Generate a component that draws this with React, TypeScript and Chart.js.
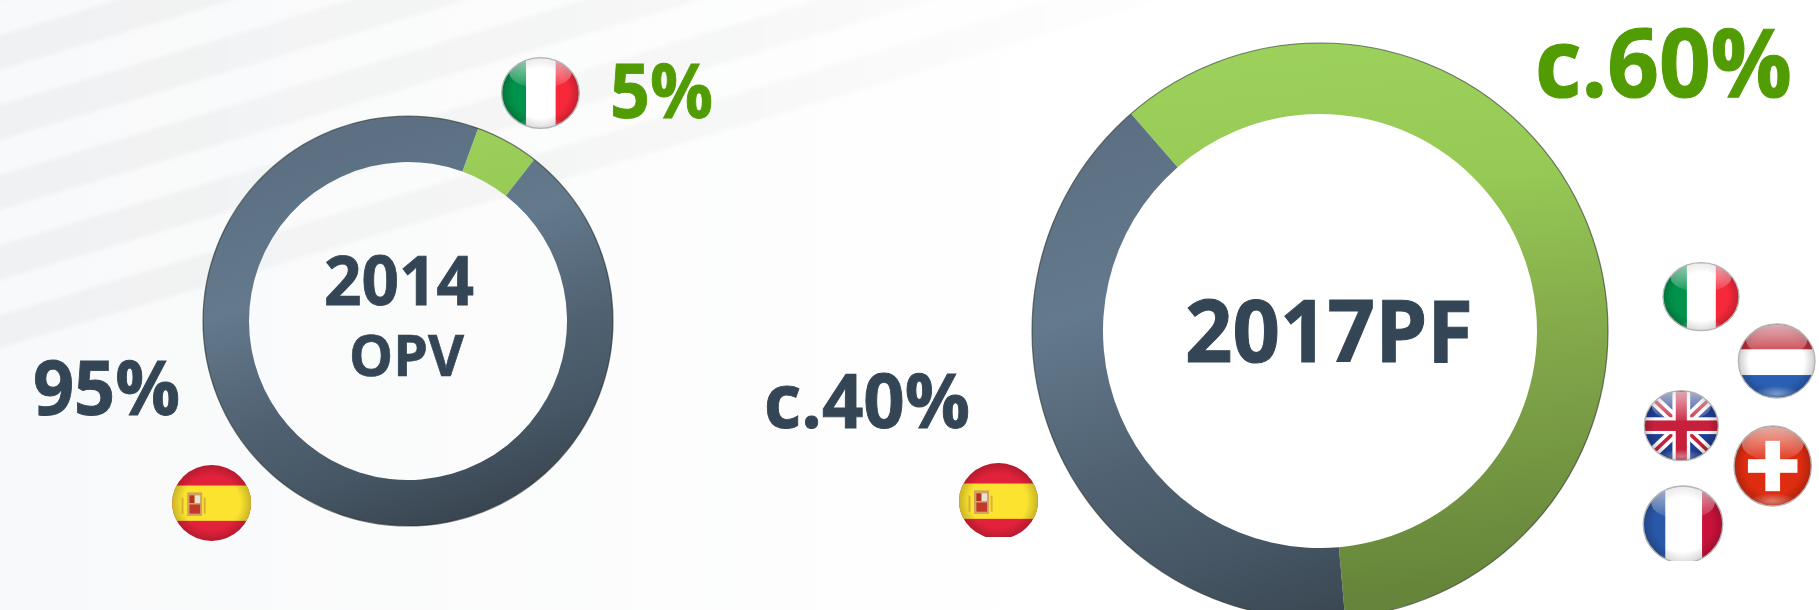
import React, { useEffect, useRef } from "react";
import { Chart, registerables } from "chart.js";

Chart.register(...registerables);

const labels2014 = ["Italy", "Spain"];
const shares2014 = [5, 95];
const labels2017 = ["Rest of Europe", "Spain"];
const shares2017 = [60, 40];

const INK = "#344656";
const GREEN = "#529c03";
const FONT = "'Open Sans', Lato, sans-serif";
const bandEdges = [-35, 0, 35, 70, 105, 140, 175, 210, 245, 280, 315, 348];

const outerEdge = {
  id: "outerEdge",
  afterDatasetsDraw(chart: any) {
    const arc = chart.getDatasetMeta(0).data[0];
    const c = chart.ctx;
    c.save();
    c.beginPath();
    c.arc(arc.x, arc.y, arc.outerRadius, 0, Math.PI * 2);
    c.strokeStyle = "rgba(35,45,40,0.6)";
    c.lineWidth = 1.2;
    c.stroke();
    c.restore();
  },
};

function Donut({ labels, values, rotation, cx, cy, outer, inner, order }: any) {
  const ref = useRef<HTMLCanvasElement>(null);
  const size = outer * 2 + 4;
  useEffect(() => {
    const canvas = ref.current!;
    const ctx = canvas.getContext("2d")!;
    const dark = ctx.createLinearGradient(size * 0.3, size * 0.1, size * 0.6, size);
    dark.addColorStop(0, "#5d7083");
    dark.addColorStop(0.3, "#63798c");
    dark.addColorStop(0.6, "#506272");
    dark.addColorStop(0.8, "#465664");
    dark.addColorStop(0.95, "#3c4955");
    dark.addColorStop(1, "#38444f");
    const green = ctx.createLinearGradient(0, 0, size * 0.1, size);
    green.addColorStop(0, "#9dd25c");
    green.addColorStop(0.3, "#97ca55");
    green.addColorStop(0.6, "#82a84a");
    green.addColorStop(1, "#66853a");
    const chart = new Chart(canvas, {
      type: "doughnut",
      data: {
        labels,
        datasets: [
          {
            data: values,
            backgroundColor: order.map((k: string) => (k === "g" ? green : dark)),
            borderWidth: 0,
          },
        ],
      },
      options: {
        animation: false,
        responsive: false,
        rotation,
        cutout: `${(inner / outer) * 100}%`,
        layout: { padding: 2 },
        plugins: { legend: { display: false }, tooltip: { enabled: false } },
      },
      plugins: [outerEdge],
    } as any);
    return () => chart.destroy();
  }, []);
  return (
    <canvas
      ref={ref}
      width={size}
      height={size}
      style={{ position: "absolute", left: cx - outer - 2, top: cy - outer - 2, width: size, height: size }}
    />
  );
}

function Label({ text, x1, x2, base, size, color }: any) {
  return (
    <text
      x={x1}
      y={base}
      textLength={x2 - x1}
      lengthAdjust="spacingAndGlyphs"
      fontFamily={FONT}
      fontWeight={700}
      fontSize={size}
      fill={color}
      stroke={color}
      strokeWidth={size * 0.012}
    >
      {text}
    </text>
  );
}

function Flag({ cx, cy, rx, ry, cut, edge = true, shine = true, children }: any) {
  const body = (
    <g transform={`translate(${cx} ${cy}) scale(${rx} ${ry})`}>
      <g clipPath="url(#unitDisc)">
        {children}
        <rect x={-1} y={-1} width={2} height={2} fill="url(#vignette)" />
        {shine ? <ellipse cx={0} cy={-0.56} rx={0.8} ry={0.42} fill="url(#gloss)" /> : null}
        {shine ? <ellipse cx={0} cy={0.84} rx={0.62} ry={0.2} fill="url(#glow)" /> : null}
      </g>
      {edge ? (
        <circle r={1} fill="none" stroke="#b4b4b4" strokeWidth={0.035} />
      ) : null}
    </g>
  );
  if (cut === undefined) return body;
  const id = `cut${Math.round(cx)}`;
  return (
    <g>
      <clipPath id={id}>
        <rect x={cx - rx - 2} y={cy - ry - 2} width={rx * 2 + 4} height={cut - cy + ry + 2} />
      </clipPath>
      <g clipPath={`url(#${id})`}>{body}</g>
    </g>
  );
}

const Italy = () => (
  <>
    <rect x={-1} y={-1} width={0.63} height={2} fill="#00924a" />
    <rect x={-0.37} y={-1} width={0.76} height={2} fill="#ffffff" />
    <rect x={0.39} y={-1} width={0.61} height={2} fill="#f6283a" />
  </>
);

const Spain = () => (
  <>
    <rect x={-1} y={-1} width={2} height={2} fill="#e2213a" />
    <rect x={-1} y={-0.46} width={2} height={0.93} fill="#fbe32f" />
    <rect x={-0.62} y={-0.28} width={0.38} height={0.62} fill="#d2a35e" />
    <rect x={-0.56} y={-0.2} width={0.12} height={0.2} fill="#b33224" />
    <rect x={-0.42} y={-0.2} width={0.13} height={0.2} fill="#e9e3d2" />
    <rect x={-0.56} y={0.04} width={0.27} height={0.24} fill="#c0392b" />
    <rect x={-0.76} y={-0.14} width={0.05} height={0.42} fill="#d9b23a" />
    <rect x={-0.2} y={-0.14} width={0.05} height={0.42} fill="#d9b23a" />
  </>
);

const Netherlands = () => (
  <>
    <rect x={-1} y={-1} width={2} height={0.69} fill="#c2303c" />
    <rect x={-1} y={-0.31} width={2} height={0.69} fill="#ffffff" />
    <rect x={-1} y={0.38} width={2} height={0.62} fill="#2a5fb4" />
  </>
);

const Britain = () => (
  <>
    <rect x={-1} y={-1} width={2} height={2} fill="#203f96" />
    <path d="M-1 -1L1 1M1 -1L-1 1" stroke="#ffffff" strokeWidth={0.3} />
    <path d="M-1 -1L1 1M1 -1L-1 1" stroke="#c8203c" strokeWidth={0.1} />
    <rect x={-0.24} y={-1} width={0.48} height={2} fill="#ffffff" />
    <rect x={-1} y={-0.24} width={2} height={0.48} fill="#ffffff" />
    <rect x={-0.15} y={-1} width={0.3} height={2} fill="#c8203c" />
    <rect x={-1} y={-0.15} width={2} height={0.3} fill="#c8203c" />
  </>
);

const Swiss = () => (
  <>
    <rect x={-1} y={-1} width={2} height={2} fill="#de2c10" />
    <rect x={-0.19} y={-0.63} width={0.38} height={1.26} fill="#ffffff" />
    <rect x={-0.64} y={-0.17} width={1.28} height={0.34} fill="#ffffff" />
  </>
);

const France = () => (
  <>
    <rect x={-1} y={-1} width={0.56} height={2} fill="#2958a8" />
    <rect x={-0.44} y={-1} width={0.92} height={2} fill="#ffffff" />
    <rect x={0.48} y={-1} width={0.52} height={2} fill="#c8123a" />
  </>
);

function Backdrop() {
  const polys = [];
  for (let i = 0; i + 1 < bandEdges.length; i += 2) {
    const a = bandEdges[i];
    const b = bandEdges[i + 1];
    polys.push(
      <polygon
        key={i}
        points={`-50,${a + 15} 1869,${a - 560.7} 1869,${b - 560.7} -50,${b + 15}`}
        fill="url(#bandFade)"
        filter="url(#soft)"
      />
    );
  }
  return (
    <svg width={1819} height={610} style={{ position: "absolute", left: 0, top: 0 }}>
      <defs>
        <linearGradient id="base" x1="0" y1="0" x2="1" y2="0">
          <stop offset="0" stopColor="#f8f9fa" />
          <stop offset="0.5" stopColor="#fefefe" />
          <stop offset="0.6" stopColor="#ffffff" />
        </linearGradient>
        <linearGradient id="bandFade" gradientUnits="userSpaceOnUse" x1="0" y1="0" x2="1180" y2="0">
          <stop offset="0" stopColor="#000000" stopOpacity="0.032" />
          <stop offset="0.6" stopColor="#000000" stopOpacity="0.024" />
          <stop offset="1" stopColor="#000000" stopOpacity="0.004" />
        </linearGradient>
        <filter id="soft" x="-5%" y="-10%" width="110%" height="120%">
          <feGaussianBlur stdDeviation="2" />
        </filter>
      </defs>
      <rect width={1819} height={610} fill="url(#base)" />
      {polys}
    </svg>
  );
}

export default function App() {
  return (
    <div
      style={{
        position: "fixed",
        left: 0,
        top: 0,
        width: 1819,
        height: 610,
        overflow: "hidden",
        background: "#ffffff",
      }}
    >
      <Backdrop />
      <Donut labels={labels2014} values={shares2014} rotation={20} cx={408} cy={321} outer={205} inner={159} order={["g", "d"]} />
      <Donut labels={labels2017} values={shares2017} rotation={-41} cx={1320} cy={330.5} outer={288} inner={217} order={["g", "d"]} />
      <svg width={1819} height={610} style={{ position: "absolute", left: 0, top: 0 }}>
        <defs>
          <clipPath id="unitDisc">
            <circle r={1} />
          </clipPath>
          <radialGradient id="vignette" cx="0.5" cy="0.5" r="0.5">
            <stop offset="0.72" stopColor="#000000" stopOpacity="0" />
            <stop offset="1" stopColor="#000000" stopOpacity="0.2" />
          </radialGradient>
          <linearGradient id="gloss" x1="0" y1="0" x2="0" y2="1">
            <stop offset="0" stopColor="#ffffff" stopOpacity="0.62" />
            <stop offset="1" stopColor="#ffffff" stopOpacity="0.08" />
          </linearGradient>
          <radialGradient id="glow" cx="0.5" cy="0.6" r="0.5">
            <stop offset="0" stopColor="#ffffff" stopOpacity="0.4" />
            <stop offset="1" stopColor="#ffffff" stopOpacity="0" />
          </radialGradient>
        </defs>
        <Flag cx={540.5} cy={93} rx={38.8} ry={35.4}><Italy /></Flag>
        <Flag cx={211.6} cy={503} rx={39.5} ry={38} edge={false} shine={false}><Spain /></Flag>
        <Flag cx={998.5} cy={501} rx={39.5} ry={38} cut={537} edge={false} shine={false}><Spain /></Flag>
        <Flag cx={1701} cy={296.7} rx={38} ry={34}><Italy /></Flag>
        <Flag cx={1776.7} cy={361} rx={38.3} ry={37}><Netherlands /></Flag>
        <Flag cx={1681.3} cy={425.7} rx={37} ry={35}><Britain /></Flag>
        <Flag cx={1772.7} cy={466} rx={38.7} ry={40}><Swiss /></Flag>
        <Flag cx={1683} cy={524.5} rx={39.7} ry={38.5} cut={561}><France /></Flag>

        <Label text="2014" x1={324} x2={474} base={305.4} size={68} color={INK} />
        <Label text="OPV" x1={349} x2={464} base={375.5} size={57} color={INK} />
        <Label text="95%" x1={33} x2={180} base={415} size={76} color={INK} />
        <Label text="5%" x1={610} x2={713} base={118} size={75} color={GREEN} />
        <Label text="2017PF" x1={1185} x2={1473} base={361.9} size={86.5} color={INK} />
        <Label text="c.40%" x1={764} x2={970} base={428} size={75} color={INK} />
        <Label text="c.60%" x1={1535} x2={1792} base={97} size={95} color={GREEN} />
      </svg>
    </div>
  );
}
